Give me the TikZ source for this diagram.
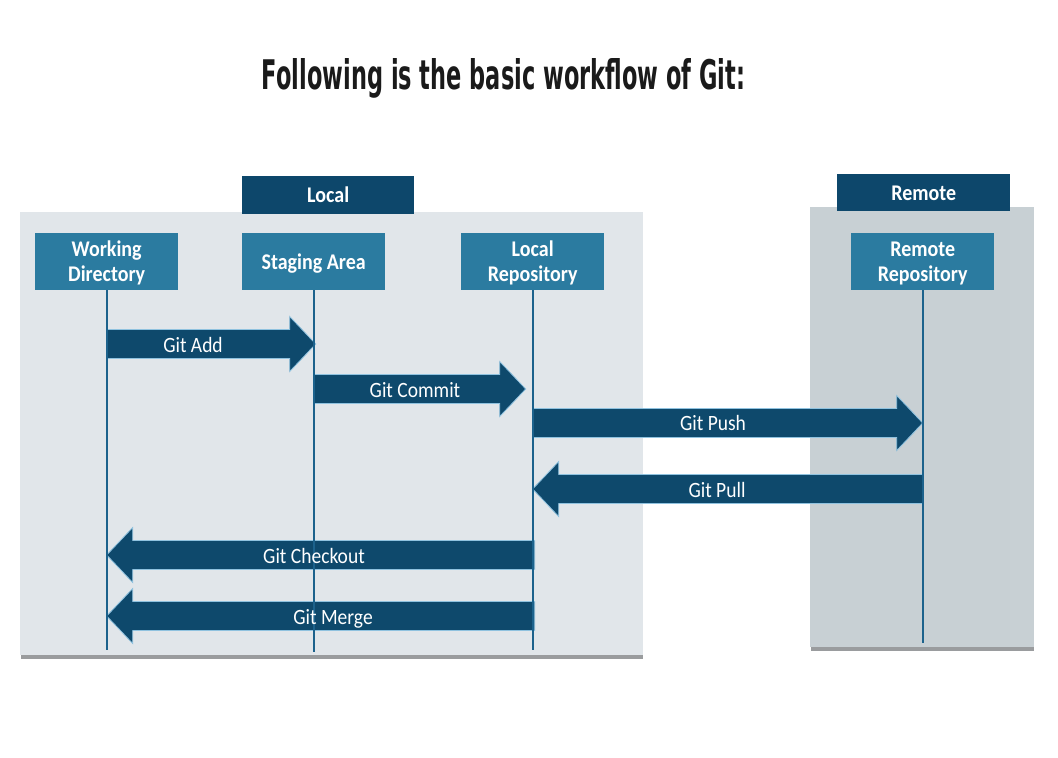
\documentclass[tikz,border=0pt]{standalone}
\usepackage{fontspec}
\setmainfont{Carlito}
\newfontfamily\titlefont{DejaVu Sans}
\usetikzlibrary{calc}
\definecolor{panelL}{HTML}{E1E6EA}
\definecolor{panelR}{HTML}{C8D0D4}
\definecolor{shadowc}{HTML}{9A9C9E}
\definecolor{headc}{HTML}{0D476B}
\definecolor{boxc}{HTML}{2B7BA0}
\definecolor{arrowc}{HTML}{0E496C}
\definecolor{arrowedge}{HTML}{8FC2DF}
\definecolor{lifec}{HTML}{1C628C}
\definecolor{titlec}{HTML}{1A1A1A}
\newcommand\tall[1]{\raisebox{-2.5pt}[\height][\depth]{\scalebox{1}[1.12]{\begin{tabular}{@{}c@{}}#1\end{tabular}}}}
\newcommand\blockarrow[2]{%
  \filldraw[arrowc, draw=arrowedge, line width=0.8pt]
    let \p1=(#1), \p2=(#2), \n2={\x2-ifthenelse(\x2>\x1,26pt,-26pt)} in
    (\x1,\y1+14.5pt) -- (\n2,\y1+14.5pt) -- (\n2,\y1+27.5pt) -- (\x2,\y1)
    -- (\n2,\y1-27.5pt) -- (\n2,\y1-14.5pt) -- (\x1,\y1-14.5pt) -- cycle;}
\begin{document}
\begin{tikzpicture}[x=1pt,y=-1pt,
  boxtxt/.style={text=white, font=\fontsize{20}{21.5}\selectfont\bfseries, align=center, inner sep=0pt},
  box/.style={boxtxt, fill=boxc, minimum width=143pt, minimum height=57pt, anchor=north west},
  header/.style={boxtxt, fill=headc, minimum width=172pt, minimum height=38pt, anchor=north west},
  alabel/.style={text=white, font=\fontsize{19.5}{22}\selectfont, inner sep=0pt},
  life/.style={draw=lifec, line width=1.8pt}]
\fill[white] (0,0) rectangle (1058,758);
\useasboundingbox (0,0) rectangle (1058,758);
% title
\node[anchor=base, inner sep=0pt, text=titlec] (title) at (503.5,89)
  {\resizebox{483pt}{31pt}{\titlefont\bfseries Following is the basic workflow of Git:}};
% panels
\fill[shadowc] (21,216) rectangle (643,659);
\node[fill=panelL, minimum width=623pt, minimum height=443pt, anchor=north west, inner sep=0pt] (localP) at (20,212) {};
\fill[shadowc] (811,211) rectangle (1034,651);
\node[fill=panelR, minimum width=224pt, minimum height=440pt, anchor=north west, inner sep=0pt] (remoteP) at (810,207) {};
% headers
\node[header] (localH) at (242,176) {\tall{Local}};
\node[header, minimum height=37pt, minimum width=173pt] (remoteH) at (837,174) {\tall{Remote}};
% boxes
\node[box] (wd) at (35,233) {\tall{Working\\Directory}};
\node[box] (sa) at (242,233) {\tall{Staging Area}};
\node[box] (lr) at (461,233) {\tall{Local\\Repository}};
\node[box] (rr) at (851,233) {\tall{Remote\\Repository}};
% lifeline ends
\coordinate (wdEnd) at (wd.south |- 0,650);
\coordinate (saEnd) at (sa.south |- 0,652);
\coordinate (lrEnd) at (lr.south |- 0,650);
\coordinate (rrEnd) at (rr.south |- 0,643);
% arrow end points
\coordinate (addA) at (wd.south |- 0,344);
\coordinate (addB) at ([xshift=2pt]sa.south |- 0,344);
\coordinate (comA) at (sa.south |- 0,389);
\coordinate (comB) at ([xshift=-7pt]lr.south |- 0,389);
\coordinate (pushA) at (lr.south |- 0,423);
\coordinate (pushB) at (rr.south |- 0,423);
\coordinate (pullA) at (rr.south |- 0,489);
\coordinate (pullB) at (lr.south |- 0,489);
\coordinate (coA) at ([xshift=2pt]lr.south |- 0,555);
\coordinate (coB) at (wd.south |- 0,555);
\coordinate (meA) at ([xshift=2pt]lr.south |- 0,616);
\coordinate (meB) at (wd.south |- 0,616);
% arrows
\blockarrow{addA}{addB}
\blockarrow{comA}{comB}
\blockarrow{pushA}{pushB}
\blockarrow{pullA}{pullB}
\blockarrow{coA}{coB}
\blockarrow{meA}{meB}
% lifelines
\draw[life] (wd.south) -- (wdEnd);
\draw[life] (sa.south) -- (saEnd);
\draw[life] (lr.south) -- (lrEnd);
\draw[life] (rr.south) -- (rrEnd);
% labels
\node[alabel] (lAdd) at (193,345) {\tall{Git Add}};
\node[alabel] (lCom) at (415,390) {\tall{Git Commit}};
\node[alabel] (lPush) at (713,423) {\tall{Git Push}};
\node[alabel] (lPull) at (717,490) {\tall{Git Pull}};
\node[alabel] (lCo) at (314,556) {\tall{Git Checkout}};
\node[alabel] (lMe) at (333,617) {\tall{Git Merge}};
\end{tikzpicture}
\end{document}
